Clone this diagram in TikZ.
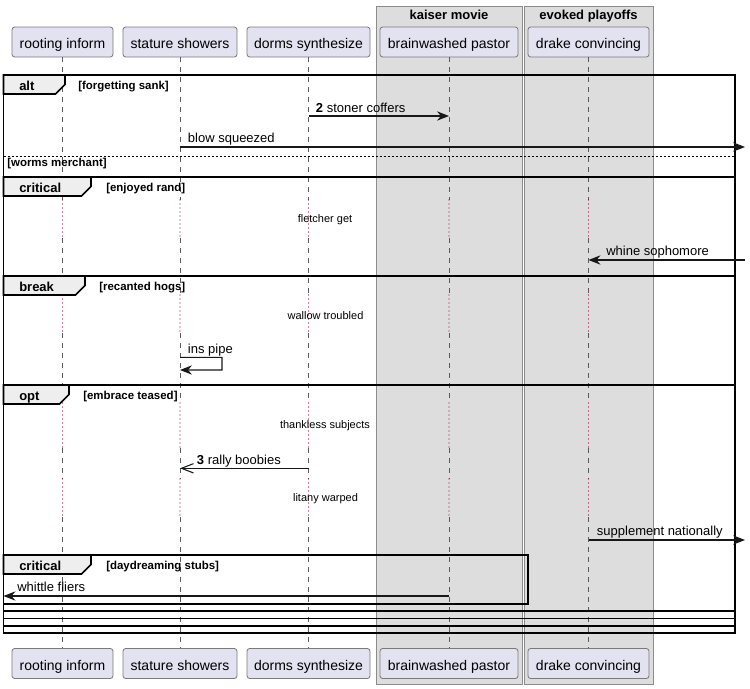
\documentclass[tikz,border=0pt]{standalone}
\usepackage{fontspec}
\setmainfont{Liberation Sans}
\usetikzlibrary{arrows.meta}

\definecolor{partfill}{HTML}{E2E2F0}
\definecolor{partline}{HTML}{7A7A7A}
\definecolor{boxfill}{HTML}{DDDDDD}
\definecolor{boxline}{HTML}{8C8C8C}
\definecolor{tabfill}{HTML}{EEEEEE}
\definecolor{delayred}{HTML}{B0003A}
\definecolor{lifegray}{HTML}{5A5A5A}
\definecolor{ink}{HTML}{181818}

\begin{document}
\begin{tikzpicture}[x=0.75pt,y=-0.75pt,
  part/.style={draw=partline, fill=partfill, rounded corners=2pt, line width=0.6pt,
    minimum height=22.5pt, inner sep=0pt, text height=10pt, text depth=0pt,
    font=\fontsize{10.5}{12}\selectfont},
  lanebox/.style={draw=boxline, fill=boxfill, line width=0.75pt},
  lanetitle/.style={anchor=base, inner sep=0pt, font=\bfseries\fontsize{9.75}{11}\selectfont},
  lifeline/.style={draw=lifegray, line width=0.6pt, dash pattern=on 3.75pt off 3.75pt},
  delayline/.style={draw=delayred, line width=0.9pt, line cap=round, dash pattern=on 0pt off 3pt},
  frame/.style={draw=black, line width=1.2pt},
  tabshape/.style={draw=black, fill=tabfill, line width=1.2pt, line join=miter},
  tabtext/.style={anchor=base west, inner sep=0pt, font=\bfseries\fontsize{9.75}{11}\selectfont},
  guard/.style={anchor=base west, inner sep=0pt, font=\bfseries\fontsize{8.6}{10}\selectfont},
  elsesep/.style={draw=black, line width=0.75pt, dash pattern=on 1.5pt off 1.5pt},
  msg/.style={draw=ink, line width=0.8pt, -{Stealth[length=9pt,width=7pt,inset=3pt]}},
  openmsg/.style={draw=ink, line width=0.8pt, -{Straight Barb[length=9pt,width=7pt]}},
  msgtext/.style={anchor=base west, inner sep=0pt, font=\fontsize{9.75}{11}\selectfont},
  delaytext/.style={anchor=base, inner sep=0pt, font=\fontsize{8.25}{10}\selectfont}]

\useasboundingbox (0,0) rectangle (750,689);

% grouping boxes behind the participants
\draw[lanebox] (376,6) rectangle (522,684);
\node[lanetitle] (tkaiser) at (449,19) {kaiser movie};
\draw[lanebox] (524,6) rectangle (653,684);
\node[lanetitle] (tevoked) at (588.5,19) {evoked playoffs};

% participants, head and foot
\node[part, minimum width=75.75pt] (pA) at (62.5,42) {rooting inform};
\node[part, minimum width=85.5pt]  (pB) at (180,42) {stature showers};
\node[part, minimum width=92.25pt] (pC) at (308.5,42) {dorms synthesize};
\node[part, minimum width=103.5pt] (pD) at (449,42) {brainwashed pastor};
\node[part, minimum width=90.75pt] (pE) at (588.5,42) {drake convincing};

\node[part, minimum width=75.75pt] (qA) at (62.5,663.5) {rooting inform};
\node[part, minimum width=85.5pt]  (qB) at (180,663.5) {stature showers};
\node[part, minimum width=92.25pt] (qC) at (308.5,663.5) {dorms synthesize};
\node[part, minimum width=103.5pt] (qD) at (449,663.5) {brainwashed pastor};
\node[part, minimum width=90.75pt] (qE) at (588.5,663.5) {drake convincing};

% delay bands
\coordinate (d1a) at (0,200); \coordinate (d1b) at (0,238);
\coordinate (d2a) at (0,295); \coordinate (d2b) at (0,333);
\coordinate (d3a) at (0,403); \coordinate (d3b) at (0,448);
\coordinate (d4a) at (0,479); \coordinate (d4b) at (0,517);

% lifelines: dashed, dotted through the delays
\foreach \n in {A,B,C,D,E} {
  \draw[lifeline]  (p\n.south) -- (p\n.south |- d1a);
  \draw[delayline] (p\n.south |- d1a) -- (p\n.south |- d1b);
  \draw[lifeline]  (p\n.south |- d1b) -- (p\n.south |- d2a);
  \draw[delayline] (p\n.south |- d2a) -- (p\n.south |- d2b);
  \draw[lifeline]  (p\n.south |- d2b) -- (p\n.south |- d3a);
  \draw[delayline] (p\n.south |- d3a) -- (p\n.south |- d3b);
  \draw[lifeline]  (p\n.south |- d3b) -- (p\n.south |- d4a);
  \draw[delayline] (p\n.south |- d4a) -- (p\n.south |- d4b);
  \draw[lifeline]  (p\n.south |- d4b) -- (q\n.north);
}

% combined fragments
\draw[frame] (3.5,75) rectangle (735,633);
\draw[frame] (3.5,177) rectangle (735,626);
\draw[frame] (3.5,276) rectangle (735,618.5);
\draw[frame] (3.5,385) rectangle (735,611);
\draw[frame] (3.5,555) rectangle (528,604);

\draw[tabshape] (3.5,75) -- (65,75) -- (65,84.5) -- (55.5,94) -- (3.5,94) -- cycle;
\node[tabtext] (lalt) at (19,90.5) {alt};
\node[guard] (galt) at (78,89) {[forgetting sank]};

\draw[elsesep] (3.5,156) -- (735,156);
\node[guard] (gelse) at (7,166.7) {[worms merchant]};

\draw[tabshape] (3.5,177) -- (91,177) -- (91,186.5) -- (81.5,196) -- (3.5,196) -- cycle;
\node[tabtext] (lcrit) at (19,192.5) {critical};
\node[guard] (gcrit) at (106,191) {[enjoyed rand]};

\draw[tabshape] (3.5,276) -- (85,276) -- (85,285.5) -- (75.5,295) -- (3.5,295) -- cycle;
\node[tabtext] (lbreak) at (19,291.5) {break};
\node[guard] (gbreak) at (99,290) {[recanted hogs]};

\draw[tabshape] (3.5,385) -- (69,385) -- (69,394.5) -- (59.5,404) -- (3.5,404) -- cycle;
\node[tabtext] (lopt) at (19,400.5) {opt};
\node[guard] (gopt) at (83,399) {[embrace teased]};

\draw[tabshape] (3.5,555) -- (91,555) -- (91,564.5) -- (81.5,574) -- (3.5,574) -- cycle;
\node[tabtext] (lcrit2) at (19,570.5) {critical};
\node[guard] (gcrit2) at (106,569) {[daydreaming stubs]};

% message rows and free ends
\coordinate (r1) at (0,116);
\coordinate (r2) at (0,147);   \coordinate (e2) at (745,147);
\coordinate (e3) at (745,260); \coordinate (r3) at (0,260);
\coordinate (s1) at (0,357.3); \coordinate (s2) at (0,370);
\coordinate (r4) at (0,468.3);
\coordinate (r5) at (0,540);   \coordinate (e5) at (745,540);
\coordinate (r6) at (0,596);   \coordinate (e6) at (3.5,596);

\draw[msg] (pC.south |- r1) -- (pD.south |- r1);
\node[msgtext] (t1) at (315.7,112) {\textbf{2} stoner coffers};

\draw[msg] (pB.south |- r2) -- (e2);
\node[msgtext] (t2) at (187.7,142.5) {blow squeezed};

\draw[msg] (e3) -- (pE.south |- r3);
\node[msgtext] (t3) at (606,255.5) {whine sophomore};

\draw[msg] (pB.south |- s1) -- ++(42,0) -- ++(0,12.7) -- (pB.south |- s2);
\node[msgtext] (t4) at (187.7,353) {ins pipe};

\draw[openmsg] (pC.south |- r4) -- (pB.south |- r4);
\node[msgtext] (t5) at (196.7,464) {\textbf{3} rally boobies};

\draw[msg] (pE.south |- r5) -- (e5);
\node[msgtext] (t6) at (596.7,535.5) {supplement nationally};

\draw[msg] (pD.south |- r6) -- (e6);
\node[msgtext] (t7) at (17,591.5) {whittle fliers};

% delay captions
\node[delaytext] (dl1) at (325,222) {fletcher get};
\node[delaytext] (dl2) at (325.5,319) {wallow troubled};
\node[delaytext] (dl3) at (325,428.7) {thankless subjects};
\node[delaytext] (dl4) at (325.5,501) {litany warped};

\end{tikzpicture}
\end{document}
